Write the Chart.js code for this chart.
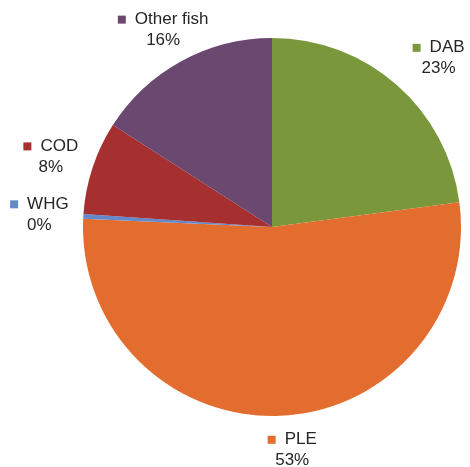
<!DOCTYPE html>
<html>
<head>
<meta charset="utf-8">
<script src="https://cdn.jsdelivr.net/npm/chart.js@4/dist/chart.umd.min.js"></script>
<style>
  html, body { margin: 0; padding: 0; background: #fff; }
  #wrap { width: 470px; height: 467px; }
</style>
</head>
<body>
<div id="wrap"><canvas id="catchPie"></canvas></div>
<script>
const species = ['DAB', 'PLE', 'WHG', 'COD', 'Other fish'];
const shares = [23, 53, 0.4, 8, 16];
const sliceColors = ['#7a973b', '#e26d2f', '#6388cc', '#a62f2f', '#6a4870'];

// labels outside each slice: colour square + name, percent underneath
const outsideLabels = {
  id: 'outsideLabels',
  afterDatasetsDraw(chart, args, opts) {
    const ctx = chart.ctx;
    const meta = chart.getDatasetMeta(0);
    const total = shares.reduce((a, b) => a + b, 0);
    ctx.save();
    ctx.font = opts.font;
    ctx.textBaseline = 'middle';
    meta.data.forEach((arc, i) => {
      const { x, y, startAngle, endAngle, outerRadius } = arc.getProps(
        ['x', 'y', 'startAngle', 'endAngle', 'outerRadius'], true);
      const mid = (startAngle + endAngle) / 2;
      const nudge = opts.nudge[i] || [0, 0];
      const cx = x + Math.cos(mid) * (outerRadius + 44) + nudge[0];
      const cy = y + Math.sin(mid) * (outerRadius + 36) + nudge[1];
      const name = species[i];
      const pct = Math.round(shares[i] / total * 100) + '%';
      const nameW = ctx.measureText(name).width;
      const blockW = 8 + 9 + nameW;
      const left = cx - blockW / 2;
      ctx.fillStyle = sliceColors[i];
      ctx.fillRect(left, cy - 10 - 4, 8, 8);
      ctx.fillStyle = opts.color;
      ctx.textAlign = 'left';
      ctx.fillText(name, left + 17, cy - 10);
      ctx.textAlign = 'center';
      ctx.fillText(pct, cx, cy + 11);
    });
    ctx.restore();
  }
};

new Chart(document.getElementById('catchPie'), {
  type: 'pie',
  data: {
    labels: species,
    datasets: [{
      data: shares,
      backgroundColor: sliceColors,
      borderWidth: 0
    }]
  },
  options: {
    responsive: true,
    maintainAspectRatio: false,
    animation: false,
    layout: { padding: { left: 83, right: 9, top: 38, bottom: 51 } },
    plugins: {
      legend: { display: false },
      tooltip: { enabled: false },
      outsideLabels: {
        font: '17px "Liberation Sans", Arial, sans-serif',
        color: '#262626',
        nudge: [[13, 0], [10, -2], [0, 0], [0, 0], [3, 0]]
      }
    }
  },
  plugins: [outsideLabels]
});
</script>
</body>
</html>
